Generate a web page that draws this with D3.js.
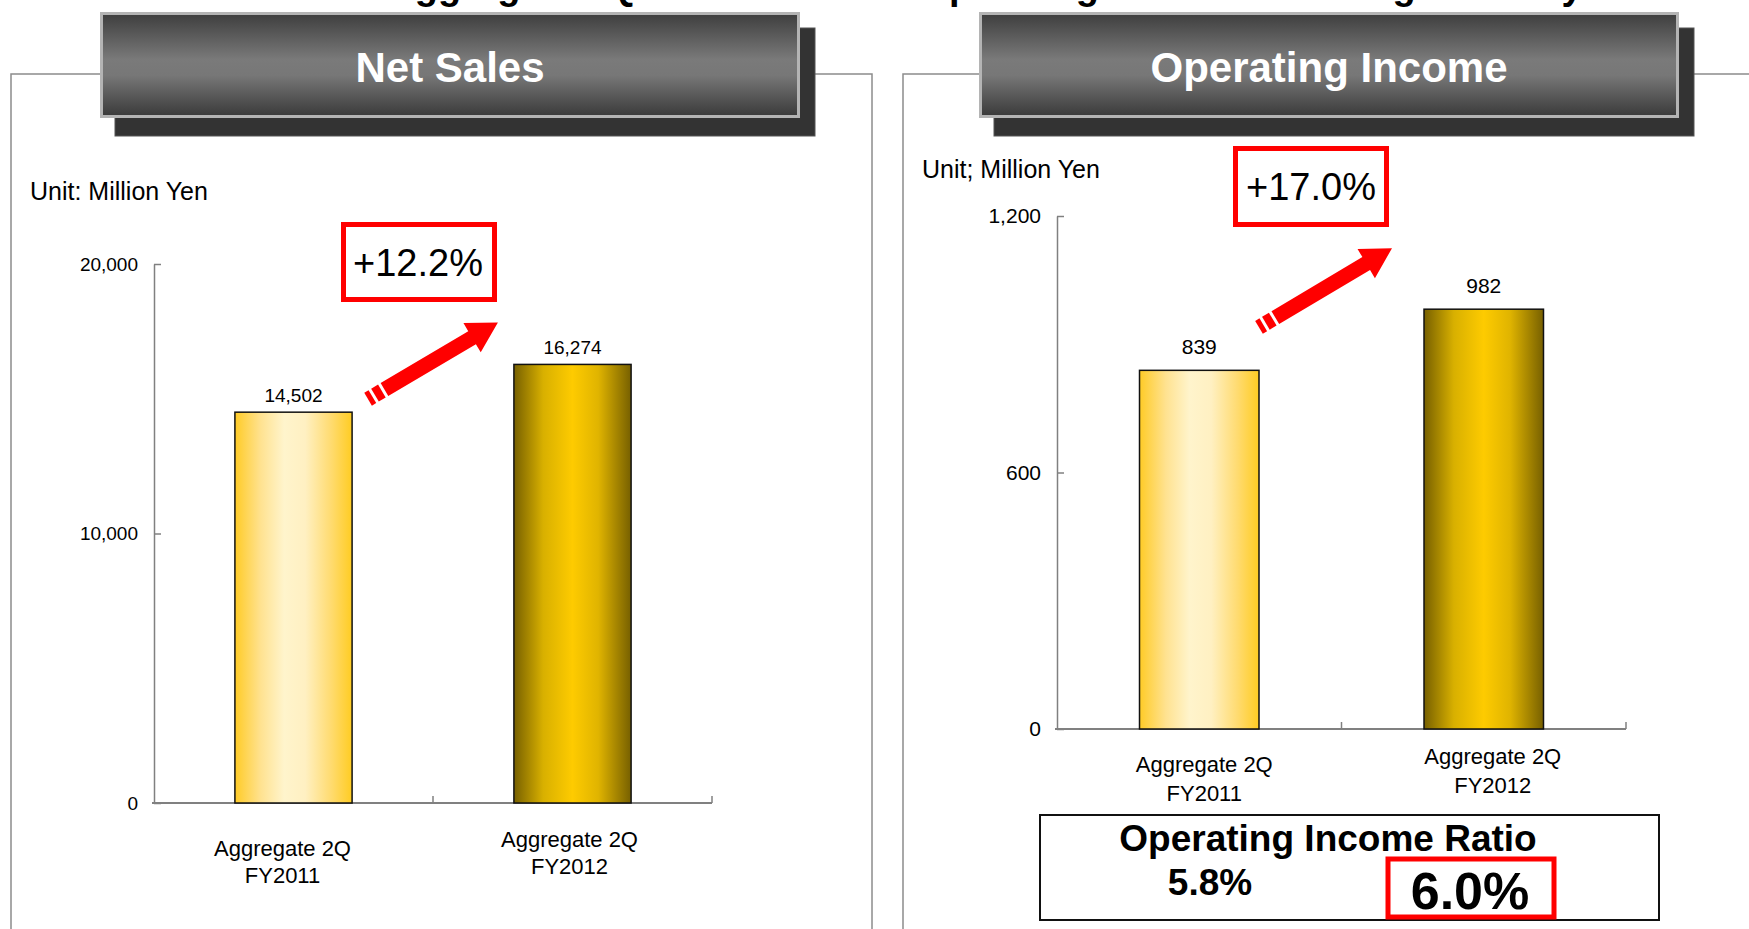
<!DOCTYPE html>
<html>
<head>
<meta charset="utf-8">
<script src="https://cdn.jsdelivr.net/npm/d3@7"></script>
<style>
  body { margin: 0; background: #fff; }
  svg { display: block; }
</style>
</head>
<body>
<div id="chart"></div>
<script>
// data
var categories = ["FY2011", "FY2012"];
var categoryLines = [["Aggregate 2Q", "FY2011"], ["Aggregate 2Q", "FY2012"]];
var netSales = [14502, 16274];
var operatingIncome = [839, 982];
var netSalesTicks = [0, 10000, 20000];
var opIncomeTicks = [0, 600, 1200];
var growthLabels = ["+12.2%", "+17.0%"];
var ratioLabels = ["5.8%", "6.0%"];
var panelTitles = ["Net Sales", "Operating Income"];
var unitLabels = ["Unit: Million Yen", "Unit; Million Yen"];

var W = 1749, H = 929;
var FONT = "'Liberation Sans', Arial, sans-serif";

var svg = d3.select("#chart").append("svg")
  .attr("width", W)
  .attr("height", H);

var defs = svg.append("defs");

var hdr = defs.append("linearGradient").attr("id", "hdrGrad")
  .attr("x1", 0).attr("y1", 0).attr("x2", 0).attr("y2", 1);
hdr.append("stop").attr("offset", "0%").attr("stop-color", "#3e3e3e");
hdr.append("stop").attr("offset", "45%").attr("stop-color", "#7a7a7a");
hdr.append("stop").attr("offset", "60%").attr("stop-color", "#777");
hdr.append("stop").attr("offset", "100%").attr("stop-color", "#3a3a3a");

var g1 = defs.append("linearGradient").attr("id", "barLight")
  .attr("x1", 0).attr("y1", 0).attr("x2", 1).attr("y2", 0);
[["0%", "#ffcb26"], ["22%", "#ffe290"], ["42%", "#fff4cc"], ["60%", "#fff0c2"], ["82%", "#ffdb70"], ["100%", "#ffcc22"]]
  .forEach(function(s) { g1.append("stop").attr("offset", s[0]).attr("stop-color", s[1]); });

var g2 = defs.append("linearGradient").attr("id", "barDark")
  .attr("x1", 0).attr("y1", 0).attr("x2", 1).attr("y2", 0);
[["0%", "#776000"], ["25%", "#d8b000"], ["50%", "#fecb00"], ["72%", "#e0b400"], ["100%", "#776000"]]
  .forEach(function(s) { g2.append("stop").attr("offset", s[0]).attr("stop-color", s[1]); });

var barFills = ["url(#barLight)", "url(#barDark)"];

// slide title, cut off by the top edge in the original too
svg.append("text")
  .attr("x", 985)
  .attr("y", -1)
  .attr("text-anchor", "middle")
  .style("font-family", FONT)
  .style("font-weight", "bold")
  .style("font-size", "38px")
  .text("Aggregate 2Q: Net Sales and Operating Income Rose Significantly");

var panels = [
  {
    frame: [11, 74, 861, 900],
    header: [100, 12, 700, 106],
    unit: [30, 200],
    x: [154, 712], y: [803, 264],
    values: netSales, ticks: netSalesTicks,
    tickSize: 19, valSize: 19, valGap: 10,
    catOffset: [53, 44], catDx: [-11, -3], catLead: 27,
    box: [341, 222, 156, 80], boxText: [418, 276],
    arrow: [16, -13, -16, -42],
    growth: growthLabels[0]
  },
  {
    frame: [903, 74, 900, 900],
    header: [979, 12, 700, 106],
    unit: [922, 178],
    x: [1057, 1626], y: [729, 216],
    values: operatingIncome, ticks: opIncomeTicks,
    tickSize: 21, valSize: 21, valGap: 16,
    catOffset: [43, 35], catDx: [5, 9], catLead: 29,
    box: [1233, 146, 156, 81], boxText: [1311, 200],
    arrow: [0, -43, -32, -61],
    growth: growthLabels[1]
  }
];

panels.forEach(function(p, i) {
  var g = svg.append("g");

  // panel frame
  g.append("rect")
    .attr("x", p.frame[0]).attr("y", p.frame[1])
    .attr("width", p.frame[2]).attr("height", p.frame[3])
    .attr("fill", "none")
    .attr("stroke", "#8c8c8c")
    .attr("stroke-width", 1.5);

  // header plate with shadow
  var h = p.header;
  g.append("rect")
    .attr("x", h[0] + 15).attr("y", h[1] + 16)
    .attr("width", h[2]).attr("height", h[3] + 2)
    .attr("fill", "#333")
    .attr("stroke", "#555")
    .attr("stroke-width", 1);
  g.append("rect")
    .attr("x", h[0] + 1.5).attr("y", h[1] + 1.5)
    .attr("width", h[2] - 3).attr("height", h[3] - 3)
    .attr("fill", "url(#hdrGrad)")
    .attr("stroke", "#b4b4b4")
    .attr("stroke-width", 3);
  g.append("text")
    .attr("x", h[0] + h[2] / 2)
    .attr("y", h[1] + h[3] / 2 + 17)
    .attr("text-anchor", "middle")
    .attr("fill", "#fff")
    .style("font-family", FONT)
    .style("font-weight", "bold")
    .style("font-size", "42px")
    .text(panelTitles[i]);

  g.append("text")
    .attr("x", p.unit[0]).attr("y", p.unit[1])
    .style("font-family", FONT)
    .style("font-size", "25px")
    .text(unitLabels[i]);

  var x = d3.scaleBand()
    .domain(categories)
    .range(p.x)
    .paddingInner(0.58)
    .paddingOuter(0.29);

  var y = d3.scaleLinear()
    .domain([0, d3.max(p.ticks)])
    .range(p.y);

  // y axis, ticks pointing into the plot
  var yAxis = d3.axisLeft(y)
    .tickValues(p.ticks)
    .tickSize(-7)
    .tickSizeOuter(0)
    .tickPadding(16)
    .tickFormat(d3.format(","));

  var ya = g.append("g")
    .attr("transform", "translate(" + p.x[0] + ",0)")
    .call(yAxis);
  ya.select(".domain").attr("stroke", "#808080").attr("stroke-width", 1.5);
  ya.selectAll(".tick line").attr("stroke", "#808080").attr("stroke-width", 1.5);
  ya.selectAll(".tick text")
    .style("font-family", FONT)
    .style("font-size", p.tickSize + "px")
    .attr("fill", "#000");

  // x axis with ticks at the category boundaries
  var step = x.step();
  var bounds = categories.map(function(c) {
    return x(c) + x.bandwidth() + step * x.paddingInner() / 2;
  });
  g.append("line")
    .attr("x1", p.x[0] - 2).attr("x2", p.x[1])
    .attr("y1", y(0)).attr("y2", y(0))
    .attr("stroke", "#808080")
    .attr("stroke-width", 2);
  g.selectAll(".xtick")
    .data(bounds)
    .enter()
    .append("line")
      .attr("x1", function(d) { return d; })
      .attr("x2", function(d) { return d; })
      .attr("y1", y(0))
      .attr("y2", y(0) - 7)
      .attr("stroke", "#808080")
      .attr("stroke-width", 1.5);

  // bars
  g.selectAll(".bar")
    .data(p.values)
    .enter()
    .append("rect")
      .attr("x", function(d, j) { return x(categories[j]); })
      .attr("y", function(d) { return y(d); })
      .attr("width", x.bandwidth())
      .attr("height", function(d) { return y(0) - y(d); })
      .attr("fill", function(d, j) { return barFills[j]; })
      .attr("stroke", "#111")
      .attr("stroke-width", 1.5);

  g.selectAll(".val")
    .data(p.values)
    .enter()
    .append("text")
      .attr("x", function(d, j) { return x(categories[j]) + x.bandwidth() / 2; })
      .attr("y", function(d) { return y(d) - p.valGap; })
      .attr("text-anchor", "middle")
      .style("font-family", FONT)
      .style("font-size", p.valSize + "px")
      .text(function(d) { return d3.format(",")(d); });

  // category labels (two lines each)
  categoryLines.forEach(function(lines, j) {
    var t = g.append("text")
      .attr("text-anchor", "middle")
      .style("font-family", FONT)
      .style("font-size", "22px");
    lines.forEach(function(line, k) {
      t.append("tspan")
        .attr("x", x(categories[j]) + x.bandwidth() / 2 + p.catDx[j])
        .attr("y", y(0) + p.catOffset[j] + k * p.catLead)
        .text(line);
    });
  });

  // growth arrow from bar 1 to bar 2
  var a = p.arrow;
  var x1 = x(categories[0]) + x.bandwidth() + a[0], y1 = y(p.values[0]) + a[1];
  var x2 = x(categories[1]) + a[2], y2 = y(p.values[1]) + a[3];
  var len = Math.sqrt((x2 - x1) * (x2 - x1) + (y2 - y1) * (y2 - y1));
  var ang = Math.atan2(y2 - y1, x2 - x1) * 180 / Math.PI;
  var ag = g.append("g")
    .attr("transform", "translate(" + x1 + "," + y1 + ") rotate(" + ang + ")");
  var hw = 7.5;
  ag.append("rect").attr("x", 0).attr("y", -hw).attr("width", 5).attr("height", hw * 2).attr("fill", "#ff0000");
  ag.append("rect").attr("x", 8).attr("y", -hw).attr("width", 8).attr("height", hw * 2).attr("fill", "#ff0000");
  ag.append("path")
    .attr("d", "M19," + (-hw) + "L" + (len - 30) + "," + (-hw) + "L" + (len - 30) + "," + (-17) +
      "L" + len + ",0L" + (len - 30) + ",17L" + (len - 30) + "," + hw + "L19," + hw + "Z")
    .attr("fill", "#ff0000");

  // growth rate box
  g.append("rect")
    .attr("x", p.box[0] + 2.5).attr("y", p.box[1] + 2.5)
    .attr("width", p.box[2] - 5).attr("height", p.box[3] - 5)
    .attr("fill", "#fff")
    .attr("stroke", "#ff0000")
    .attr("stroke-width", 5);
  g.append("text")
    .attr("x", p.boxText[0]).attr("y", p.boxText[1])
    .attr("text-anchor", "middle")
    .style("font-family", FONT)
    .style("font-size", "38px")
    .text(p.growth);
});

// operating income ratio box
var rb = svg.append("g");
rb.append("rect")
  .attr("x", 1040).attr("y", 815)
  .attr("width", 619).attr("height", 105)
  .attr("fill", "#fff")
  .attr("stroke", "#111")
  .attr("stroke-width", 2);
rb.append("text")
  .attr("x", 1328).attr("y", 851)
  .attr("text-anchor", "middle")
  .style("font-family", FONT)
  .style("font-weight", "bold")
  .style("font-size", "37px")
  .text("Operating Income Ratio");
rb.append("text")
  .attr("x", 1210).attr("y", 895)
  .attr("text-anchor", "middle")
  .style("font-family", FONT)
  .style("font-weight", "bold")
  .style("font-size", "37px")
  .text(ratioLabels[0]);
rb.append("rect")
  .attr("x", 1388).attr("y", 859)
  .attr("width", 166).attr("height", 58)
  .attr("fill", "#fff")
  .attr("stroke", "#ff0000")
  .attr("stroke-width", 5);
rb.append("text")
  .attr("x", 1470).attr("y", 909)
  .attr("text-anchor", "middle")
  .style("font-family", FONT)
  .style("font-weight", "bold")
  .style("font-size", "52px")
  .text(ratioLabels[1]);
</script>
</body>
</html>
